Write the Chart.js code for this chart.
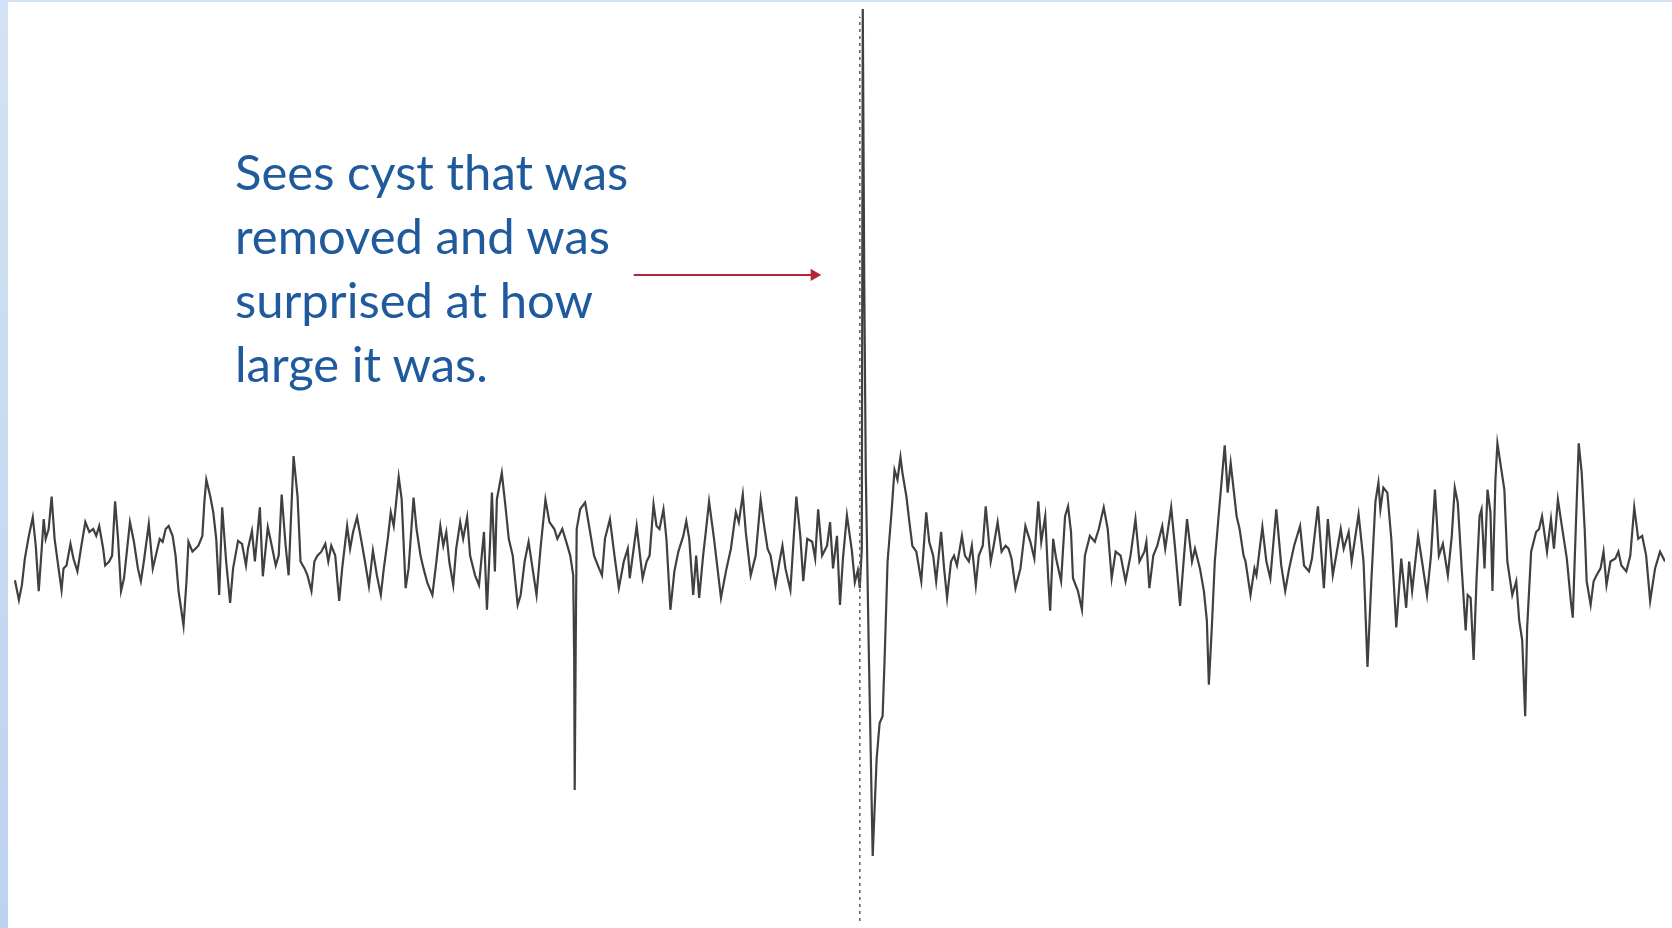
<!DOCTYPE html>
<html>
<head>
<meta charset="utf-8">
<script src="https://cdn.jsdelivr.net/npm/chart.js@4.4.1/dist/chart.umd.min.js"></script>
<style>
html,body{margin:0;padding:0;background:#fff;overflow:hidden}
#wrap{position:relative;width:1672px;height:928px}
#edge{position:absolute;left:0;top:0;width:8px;height:928px;background:linear-gradient(#d3e2f4,#bcd3ee)}
#topline{position:absolute;left:0;top:0;width:1672px;height:2px;background:#d2e1f3}
#note{position:absolute;left:235px;top:139px;font-family:Lato,"Open Sans",sans-serif;font-size:49px;line-height:64px;color:#1f5a9c;white-space:nowrap}
canvas{position:absolute;left:0;top:0}
</style>
</head>
<body>
<div id="wrap">
<canvas id="chart" width="1672" height="928"></canvas>
<div id="edge"></div>
<div id="topline"></div>
<div id="note">Sees cyst that was<br>removed and was<br>surprised at how<br>large it was.</div>
</div>
<script>
// trace: time (arbitrary units) and amplitude
const time=[
8,12,15,18,22,26,29,32,35,37,39,42,45,48,52,55,57,60,64,67,71,75,79,83,87,90,93,97,99,103,106,109,112,115,118,124,128,132,135,138,143,147,151,154,157,160,163,167,170,173,178,181,183,187,190,193,197,199,201,205,208,211,
214,217,221,225,228,233,237,241,243,247,250,255,258,263,267,271,274,277,281,284,289,293,296,300,303,307,310,313,317,321,324,327,331,335,338,343,346,349,353,357,361,365,369,373,377,380,384,387,390,395,398,402,405,410,413,417,420,424,
429,433,437,440,443,446,450,453,457,460,464,467,472,476,481,484,487,489,492,494,499,503,506,510,515,518,522,526,530,534,538,543,547,552,555,560,564,568,571,572,572.5,573.5,574.5,578,583,587,592,597,600,603,608,613,617,622,626,628,
635,641,645,648,652,655,658,662,665,669,673,677,682,685,688,692,695,698,702,705,708,713,720,725,730,735,738,742,745,750,755,760,763,767,770,775,779,782,785,790,796,800,803,807,812,815,818,822,827,830,833,837,840,843,847,852,855,858,860,
862,863,864.5,866,869,873,
877,880,883,885,888,892,895,898,901,903,907,910,913,917,922,927,930,934,937,942,945,948,952,955,958,963,966,970,973,977,980,984,987,992,995,999,1003,1007,1010,1013,1017,1022,1027,1032,1036,1040,1043,1047,1050,1052,1055,
1058,1063,1067,1070,1073,1075,1080,1084,1087,1092,1097,1101,1106,1110,1114,1118,1123,1128,1133,1138,1142,1147,1149,1152,1156,1160,1165,1168,1174,1178,1183,1187,1190,1195,1198,1203,1207,1210,1212,1215,1218,1223,1225,1228,1231,1234,1237,1240,1243,1247,1249,1254,1258,
1260,1266,1270,1274,1280,1285,1289,1293,1298,1304,1308,1313,1316,1322,1328,1332,1337,1345,1348,1353,1356,1363,1368,1372,1376,1380,1383,1385,1388,1392,1396,1401,1406,1411,1414,1417,1423,1427,1432,1436,1440,1444,1448,1453,1457,1460,
1463,1467,1471,1473,1476,1479,1482,1485,1487,1490,1493,1496,1498,1501,1503,1507,1510,1513,1518,1522,1525,1528,1531,1533,1537,1542,1545,1548,1553,1557,1560,1564,1568,1573,1577,1579,1582,1585,1588,1591,1593,1597,1600,1603,1607,1610,1613,1617,1622,1625,1628,1633,1637,1641,1645,1649,1653,1657,1662,1667,1672
];
const signal=[
-52,-72,-57,-30,-7,12,-17,-63,-20,10,-10,0,33,-10,-40,-62,-40,-37,-15,-30,-43,-17,7,-3,0,-7,3,-20,-37,-33,-27,28,-10,-63,-50,7,-13,-40,-53,-33,5,-40,-23,-10,-13,0,3,-7,-27,-63,-98,-53,-13,-23,-20,-17,-7,27,50,33,17,-10,
-67,22,-33,-75,-40,-12,-15,-37,-20,-2,-33,22,-48,2,-17,-37,-27,35,-17,-47,74,33,-33,-40,-47,-63,-33,-27,-23,-15,-33,-17,-27,-73,-40,3,-20,-3,12,-10,-33,-58,-22,-47,-67,-40,-10,17,3,53,30,-60,-40,32,0,-27,-40,-55,
-67,-33,3,-17,-3,-33,-57,-20,7,-10,12,-27,-47,-57,-3,-82,-17,37,-43,30,57,20,-10,-27,-77,-67,-33,-13,-40,-67,-20,30,7,0,-10,0,-13,-27,-47,-133,-265,-120,0,20,27,3,-27,-40,-47,-10,10,-30,-60,-33,-20,-50,
3,-50,-33,-27,25,3,0,20,-10,-82,-43,-23,-7,8,-10,-67,-27,-70,-27,0,28,-10,-70,-43,-20,17,7,35,-3,-47,-27,30,7,-20,-27,-57,-33,-17,-40,-62,33,-7,-53,-10,-13,-30,20,-27,-17,7,-40,-7,-77,-30,14,-22,-54,-42,-60,
-20,528,250,60,-120,-332,
-233,-197,-190,-133,-33,17,60,50,73,57,33,7,-17,-23,-53,17,-13,-27,-53,-3,-40,-70,-33,-27,-37,-7,-27,-33,-17,-57,-27,-17,23,-33,-17,7,-23,-17,-20,-30,-60,-40,3,-13,-30,28,-13,13,-50,-83,-10,
-30,-53,13,23,-3,-50,-63,-82,-27,-7,-13,0,22,0,-50,-23,-27,-53,-27,10,-33,-23,-13,-60,-27,-17,3,-20,22,-20,-78,-27,10,-33,-20,-40,-63,-93,-158,-100,-33,27,50,85,37,67,40,13,0,-27,-33,-67,-40,
-47,2,-33,-50,20,-37,-63,-40,-17,3,-37,-43,-30,23,-60,10,-47,0,-20,-3,-33,15,-33,-140,-50,28,47,20,42,37,-10,-100,-30,-80,-33,-63,-7,-33,-67,-27,40,-27,-15,-47,-7,42,
27,-40,-103,-67,-70,-133,-50,13,20,-40,40,17,-63,50,87,60,40,-33,-67,-53,-93,-113,-190,-100,-23,-3,0,13,-23,10,-20,30,3,-30,-73,-90,0,87,57,0,-53,-77,-53,-47,-40,-23,-57,-33,-30,-23,-37,-43,-27,22,-10,-7,-27,-73,-40,-23,-33
];
// stimulus marker (dotted) and the arrow pointing at the response
const markerTime=[860,860];
const markerRange=[-398,520];
const arrowTime=[632,814];
const arrowLevel=[258,258];

const traceData=time.map((t,i)=>({x:t,y:signal[i]}));
const markerData=markerTime.map((t,i)=>({x:t,y:markerRange[i]}));
const arrowData=arrowTime.map((t,i)=>({x:t,y:arrowLevel[i]}));

new Chart(document.getElementById("chart"),{
type:"line",
data:{datasets:[
{data:markerData,borderColor:"#666",borderWidth:1.6,borderDash:[3,4],pointRadius:0},
{data:traceData,borderColor:"#404040",borderWidth:2.2,pointRadius:0,tension:0},
{data:arrowData,borderColor:"#b3263a",backgroundColor:"#b3263a",borderWidth:2,pointStyle:"triangle",pointRotation:90,pointRadius:[0,7],pointBorderWidth:0}
]},
options:{
responsive:false,animation:false,
layout:{padding:0},
plugins:{legend:{display:false},tooltip:{enabled:false}},
scales:{
x:{type:"linear",min:0,max:1672,display:false},
y:{min:-398,max:530,display:false}
}
}
});
</script>
</body>
</html>
